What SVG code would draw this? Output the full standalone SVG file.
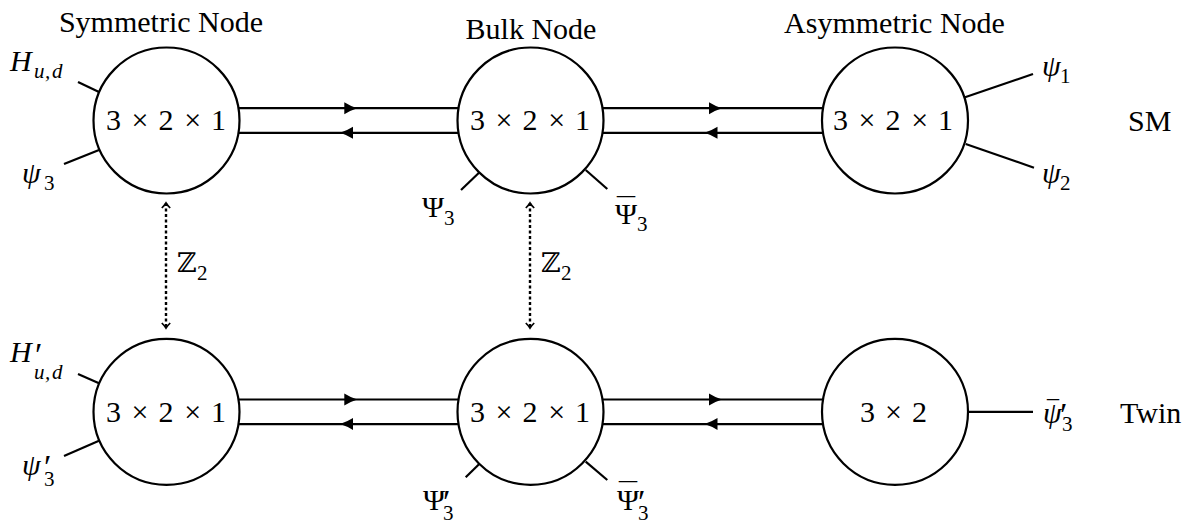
<svg xmlns="http://www.w3.org/2000/svg" width="1185" height="523" viewBox="0 0 1185 523">
<style>
.t{font-family:"Liberation Serif","Times New Roman",serif;font-size:30px;fill:#000}
.m{font-style:italic}
.s{font-size:21px}
.p{font-size:34px}
.bb{font-family:"DejaVu Serif","DejaVu Sans",serif;font-size:27px;fill:#000}
.node{fill:#fff;stroke:#000;stroke-width:2.2}
.leg{fill:none;stroke:#000;stroke-width:2.2}
.dbl{fill:none;stroke:#000;stroke-width:2.2;marker-mid:url(#tri)}
.dot{fill:none;stroke:#000;stroke-width:2.4;stroke-dasharray:3 2.5;marker-start:url(#chev);marker-end:url(#chev)}
</style>
<defs>
<marker id="tri" markerUnits="userSpaceOnUse" viewBox="0 0 16 14" markerWidth="16" markerHeight="14" refX="14" refY="7" orient="auto">
<path d="M14,7 Q7,4.8 1,1 L1,13 Q7,9.2 14,7 Z" fill="#000"/>
</marker>
<marker id="chev" markerUnits="userSpaceOnUse" viewBox="-7 -7 14 14" markerWidth="14" markerHeight="14" refX="0" refY="0" orient="auto-start-reverse">
<path d="M-5,-4.2 Q-1.8,-1 0,0 Q-1.8,1 -5,4.2" fill="none" stroke="#000" stroke-width="1.7"/>
</marker>
</defs>
<g id="connectors">
<path class="dbl" d="M166.5,108.2 H357.3 H530.5"/>
<path class="dbl" d="M530.5,132.8 H340 H166.5"/>
<path class="dbl" d="M530.5,108.2 H722 H895"/>
<path class="dbl" d="M895,132.8 H704.5 H530.5"/>
<path class="dbl" d="M166.5,399.5 H357.3 H530.5"/>
<path class="dbl" d="M530.5,424.1 H340 H166.5"/>
<path class="dbl" d="M530.5,399.5 H722 H895"/>
<path class="dbl" d="M895,424.1 H704.5 H530.5"/>
<path class="dot" d="M166,203 V328"/>
<path class="dot" d="M530,203 V328"/>
<text class="bb" x="177" y="272">ℤ</text><text class="t s" x="197" y="280">2</text>
<text class="bb" x="541" y="272">ℤ</text><text class="t s" x="561" y="280">2</text>
</g>
<g id="sym-top">
<text class="t" x="161" y="32" text-anchor="middle">Symmetric Node</text>
<line class="leg" x1="78" y1="82" x2="99" y2="92"/>
<line class="leg" x1="64" y1="164" x2="99" y2="150"/>
<circle class="node" cx="166.5" cy="120.5" r="73"/>
<text class="t" x="113.5 139.9 166 192.6 218.5" y="130" text-anchor="middle">3×2×1</text>
<text class="t m" x="10" y="71">H</text><text class="t m s" x="34 45 52" y="78">u,d</text>
<text class="t m" x="22" y="183">ψ</text><text class="t s" x="44" y="190">3</text>
</g>
<g id="bulk-top">
<text class="t" x="531" y="39" text-anchor="middle">Bulk Node</text>
<line class="leg" x1="461" y1="190" x2="479" y2="172.7"/>
<line class="leg" x1="585.7" y1="170" x2="607.3" y2="189"/>
<circle class="node" cx="530.5" cy="120.5" r="73"/>
<text class="t" x="477.5 503.9 530 556.6 582.5" y="130" text-anchor="middle">3×2×1</text>
<text class="t" x="422" y="217">Ψ</text><text class="t s" x="444" y="225">3</text>
<text class="t" x="617" y="218" textLength="18" lengthAdjust="spacingAndGlyphs">¯</text><text class="t" x="615" y="224">Ψ</text><text class="t s" x="637" y="231">3</text>
</g>
<g id="asym-top">
<text class="t" x="894.5" y="33" text-anchor="middle">Asymmetric Node</text>
<line class="leg" x1="965" y1="97.3" x2="1033" y2="74"/>
<line class="leg" x1="965.7" y1="144" x2="1034" y2="167.7"/>
<circle class="node" cx="895" cy="120.5" r="73"/>
<text class="t" x="840.5 866.9 893 919.6 945.5" y="130" text-anchor="middle">3×2×1</text>
<text class="t m" x="1042" y="76">ψ</text><text class="t s" x="1060" y="83">1</text>
<text class="t m" x="1042" y="183">ψ</text><text class="t s" x="1060" y="190">2</text>
</g>
<g id="label-sm"><text class="t" x="1128" y="131">SM</text></g>
<g id="sym-bottom">
<line class="leg" x1="78" y1="374" x2="99" y2="383.3"/>
<line class="leg" x1="64" y1="456" x2="99" y2="440.7"/>
<circle class="node" cx="166.5" cy="411.8" r="73"/>
<text class="t" x="113.5 139.9 166 192.6 218.5" y="421.5" text-anchor="middle">3×2×1</text>
<text class="t m" x="10" y="362">H</text><text class="t p" x="35" y="366">′</text><text class="t m s" x="34 45 52" y="379">u,d</text>
<text class="t m" x="22" y="475">ψ</text><text class="t p" x="44" y="478">′</text><text class="t s" x="44" y="486">3</text>
</g>
<g id="bulk-bottom">
<line class="leg" x1="465.7" y1="477.3" x2="479" y2="464.3"/>
<line class="leg" x1="585.7" y1="461.7" x2="607.3" y2="480"/>
<circle class="node" cx="530.5" cy="411.8" r="73"/>
<text class="t" x="477.5 503.9 530 556.6 582.5" y="421.5" text-anchor="middle">3×2×1</text>
<text class="t" x="423" y="510">Ψ</text><text class="t p" x="443" y="513">′</text><text class="t s" x="443" y="520">3</text>
<text class="t" x="619" y="503" textLength="18" lengthAdjust="spacingAndGlyphs">¯</text><text class="t" x="617" y="510">Ψ</text><text class="t p" x="638" y="513">′</text><text class="t s" x="638" y="520">3</text>
</g>
<g id="asym-bottom">
<line class="leg" x1="968" y1="411.8" x2="1033" y2="411.8"/>
<circle class="node" cx="895" cy="411.8" r="73"/>
<text class="t" x="867.5 893.5 919.5" y="421.5" text-anchor="middle">3×2</text>
<text class="t" x="1047" y="421" textLength="12" lengthAdjust="spacingAndGlyphs">¯</text><text class="t m" x="1043" y="423">ψ</text><text class="t p" x="1060" y="426">′</text><text class="t s" x="1062" y="431">3</text>
</g>
<g id="label-twin"><text class="t" x="1120" y="423">Twin</text></g>
</svg>
